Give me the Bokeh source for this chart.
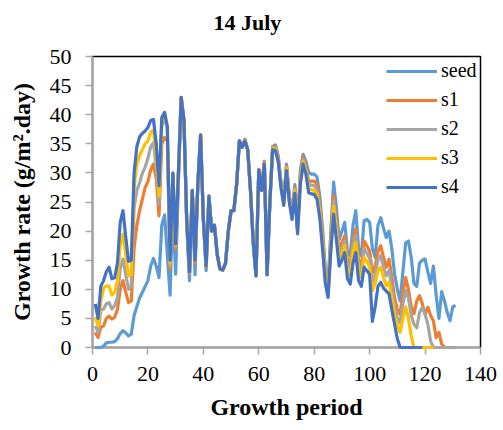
from bokeh.plotting import figure
from bokeh.models import FixedTicker, Range1d, Legend, LegendItem, Label
from bokeh.embed import file_html
from bokeh.resources import INLINE

days = list(range(1, 132))

seed = [0, 0, 0, 0.2, 0.8, 0.9, 0.9, 1.0, 1.5, 2.4,
        2.9, 2.5, 2.0, 2.3, 5.5, 7.0, 8.5, 9.5, 10.5, 11.5,
        14.0, 15.3, 14.0, 12.0, 21.0, 22.8, 16.0, 9.0, 25.0, 12.6,
        28.0, 42.5, 39.0, 21.0, 11.5, 27.0, 12.5, 28.0, 36.5, 22.0,
        13.2, 26.0, 20.0, 21.0, 16.0, 13.5, 13.3, 14.5, 20.0, 23.5,
        23.5, 28.0, 35.5, 34.4, 35.8, 34.0, 27.0, 18.0, 12.3, 30.5,
        27.0, 32.0, 12.5, 25.0, 34.5, 34.8, 33.0, 28.5, 25.4, 31.5,
        26.2, 23.2, 28.0, 21.0, 30.5, 33.2, 32.0, 30.1, 29.8, 29.8,
        29.3, 26.0, 20.5, 13.5, 10.5, 20.0, 28.4, 24.0, 18.5, 20.0,
        21.5, 16.5, 15.8, 21.0, 23.5, 17.0, 15.8, 21.8, 22.0, 21.5,
        17.0, 15.5, 21.0, 22.3, 20.5, 18.9, 20.0, 17.0, 12.6, 10.0,
        8.0, 13.0, 18.0, 18.3, 15.5, 11.0, 10.5, 14.5, 15.0, 15.2,
        13.0, 11.0, 14.0, 9.0, 5.0, 9.6, 8.0, 6.0, 4.6, 7.0, 7.2]

s1 = [2.6, 1.7, 3.5, 3.7, 5.0, 5.4, 4.9, 5.2, 6.5, 10.0,
      11.5, 9.5, 7.7, 8.0, 17.0, 21.0, 23.5, 25.5, 27.5, 28.5,
      30.5, 31.5, 29.0, 22.6, 35.0, 36.1, 35.5, 13.5, 29.5, 17.0,
      29.8, 43.0, 39.0, 21.8, 12.6, 27.0, 14.5, 28.0, 36.6, 22.0,
      13.8, 26.0, 20.0, 21.0, 16.0, 13.5, 13.3, 14.5, 20.0, 23.5,
      23.5, 28.0, 35.5, 34.4, 35.7, 34.0, 27.0, 18.0, 12.3, 30.6,
      27.0, 32.0, 12.5, 25.0, 34.5, 34.5, 32.7, 28.2, 25.0, 31.2,
      25.8, 22.8, 27.5, 20.5, 29.8, 32.8, 31.2, 28.5, 28.6, 28.6,
      28.0, 24.8, 19.5, 12.8, 10.0, 19.2, 26.1, 22.0, 16.8, 18.0,
      19.2, 15.0, 14.5, 18.5, 20.4, 15.0, 14.0, 18.3, 17.5, 16.6,
      12.8, 14.0, 16.5, 17.5, 15.5, 13.8, 15.2, 12.0, 8.6, 6.5,
      5.7, 9.5, 12.0, 10.0, 7.0, 5.8, 8.0, 8.9, 7.5, 5.7,
      6.9, 5.5, 4.6, 1.7, 2.6, 0.6, 0, 0, 0, 0, 0]

s2 = [3.7, 2.6, 6.5, 6.6, 7.5, 7.7, 6.6, 7.2, 8.5, 13.5,
      15.2, 12.5, 10.0, 10.5, 24.0, 27.0, 28.3, 30.0, 31.0, 32.5,
      34.5, 35.2, 31.0, 24.6, 38.0, 39.5, 37.5, 14.0, 29.8, 17.3,
      30.0, 43.0, 39.0, 21.9, 12.8, 27.0, 14.7, 28.0, 36.5, 22.0,
      14.0, 26.0, 20.0, 21.0, 16.0, 13.5, 13.3, 14.5, 20.0, 23.5,
      23.5, 28.0, 35.5, 34.4, 35.6, 34.0, 27.0, 18.0, 12.3, 30.5,
      27.0, 31.8, 12.5, 25.0, 34.3, 34.3, 32.4, 28.0, 24.8, 30.9,
      25.5, 22.5, 27.2, 20.2, 29.3, 32.3, 30.8, 28.0, 27.9, 27.8,
      27.1, 24.0, 18.7, 12.2, 9.5, 18.3, 25.2, 21.0, 15.8, 17.0,
      18.3, 14.0, 13.5, 17.5, 19.3, 14.0, 13.0, 17.0, 16.2, 15.3,
      11.2, 12.5, 15.0, 15.8, 13.8, 12.3, 13.3, 10.0, 7.2, 5.0,
      4.2, 7.5, 9.8, 8.5, 5.5, 4.0, 3.4, 6.0, 6.9, 5.7,
      4.0, 1.1, 0, 0, 0, 0, 0, 0, 0, 0, 0]

s3 = [5.2, 3.7, 8.0, 10.2, 10.6, 10.5, 9.0, 9.5, 11.5, 17.5,
      19.5, 16.0, 12.3, 12.5, 27.5, 31.5, 33.0, 34.0, 35.0, 35.5,
      37.0, 37.3, 33.0, 26.0, 39.0, 40.2, 37.8, 14.5, 29.9, 17.6,
      30.0, 43.0, 39.0, 22.0, 13.0, 27.0, 15.0, 28.0, 36.5, 22.0,
      14.0, 26.0, 20.0, 21.0, 16.0, 13.5, 13.3, 14.5, 20.0, 23.5,
      23.5, 28.0, 35.5, 34.4, 35.6, 34.0, 27.0, 18.0, 12.3, 30.5,
      27.0, 31.6, 12.5, 25.0, 34.2, 34.1, 32.2, 27.8, 24.6, 30.7,
      25.2, 22.2, 26.9, 19.9, 28.8, 31.9, 30.3, 27.3, 27.1, 27.0,
      26.3, 23.2, 17.9, 11.6, 9.0, 17.4, 24.3, 20.0, 15.0, 16.0,
      17.5, 13.0, 12.3, 16.3, 18.0, 13.0, 12.0, 15.5, 14.8, 13.8,
      9.8, 11.0, 13.2, 13.8, 12.0, 10.6, 11.2, 8.5, 5.7, 3.8,
      2.6, 5.0, 7.0, 5.0, 2.0, 0, 0, 0, 0, 0,
      0, 0, 0]

s4 = [7.5, 5.0, 10.5, 11.5, 13.0, 13.8, 11.8, 12.0, 14.5, 21.5,
      23.5, 19.0, 14.8, 15.0, 30.0, 34.5, 36.2, 36.8, 37.2, 37.8,
      39.0, 39.2, 35.0, 27.8, 39.5, 40.4, 38.0, 15.0, 30.0, 17.8,
      30.0, 43.0, 39.0, 22.0, 13.0, 27.0, 15.0, 28.0, 36.5, 22.0,
      14.0, 26.0, 20.0, 21.0, 16.0, 13.5, 13.3, 14.5, 20.0, 23.5,
      23.5, 28.0, 35.5, 34.4, 35.5, 34.0, 27.0, 18.0, 12.3, 30.5,
      27.0, 31.5, 12.5, 25.0, 34.0, 33.8, 32.0, 27.5, 24.4, 30.4,
      25.0, 22.0, 26.5, 19.5, 28.0, 31.5, 29.8, 26.6, 26.4, 26.3,
      25.5, 22.3, 17.0, 11.0, 8.6, 16.6, 22.9, 18.5, 14.0, 15.0,
      16.3, 11.8, 10.9, 14.5, 16.3, 11.5, 10.5, 13.8, 13.2, 12.6,
      4.5, 7.0, 10.5, 11.2, 10.2, 9.7, 9.2, 6.5, 4.0, 1.5,
      0, 0, 0, 0, 0, 0, 0, 0, 0]

series_names = ["seed", "s1", "s2", "s3", "s4"]
series_values = [seed, s1, s2, s3, s4]
series_colors = ["#5B9BD5", "#ED7D31", "#A5A5A5", "#FFC000", "#4472C4"]

x_ticks = [0, 20, 40, 60, 80, 100, 120, 140]
y_ticks = [0, 5, 10, 15, 20, 25, 30, 35, 40, 45, 50]
title_text = "14 July"

FONT = "Liberation Serif"

p = figure(width=503, height=430, output_backend="svg", toolbar_location=None,
           x_range=Range1d(0, 140), y_range=Range1d(0, 50),
           min_border_left=92, min_border_right=23, min_border_top=56, min_border_bottom=83)

p.xgrid.visible = False
p.ygrid.visible = False
p.outline_line_color = "black"
p.outline_line_width = 1.5
p.background_fill_color = "white"
p.border_fill_color = "white"

items = []
for name, vals, col in zip(series_names, series_values, series_colors):
    r = p.line(days[:len(vals)], vals, line_color=col, line_width=3.2,
               line_join="round", level="overlay")
    items.append(LegendItem(label=name, renderers=[r]))

for ax in (p.xaxis[0], p.yaxis[0]):
    ax.axis_line_color = "#A6A6A6"
    ax.axis_line_width = 2
    ax.major_tick_line_color = "#A6A6A6"
    ax.major_tick_line_width = 1.5
    ax.major_tick_out = 7
    ax.major_tick_in = 0
    ax.minor_tick_out = 0
    ax.minor_tick_in = 0
    ax.major_label_text_font = FONT
    ax.major_label_text_font_size = "22px"
    ax.major_label_text_color = "black"
    ax.axis_label_text_font = FONT
    ax.axis_label_text_font_size = "24px"
    ax.axis_label_text_font_style = "bold"
    ax.axis_label_text_color = "black"

p.xaxis[0].ticker = FixedTicker(ticks=x_ticks)
p.yaxis[0].ticker = FixedTicker(ticks=y_ticks)
p.xaxis[0].axis_label = "Growth period"
p.yaxis[0].axis_label = "Growth rate (g/m².day)"
p.xaxis[0].major_label_standoff = 12
p.yaxis[0].major_label_standoff = 14
p.xaxis[0].axis_label_standoff = 10
p.yaxis[0].axis_label_standoff = 12

title = Label(x=121, y=34, x_units="screen", y_units="screen", text=title_text,
              text_font=FONT, text_font_size="22px", text_font_style="bold",
              text_color="black", text_align="left", text_baseline="middle")
p.add_layout(title, "above")

legend = Legend(items=items, location=(289, 144))
legend.label_text_font = FONT
legend.label_text_font_size = "20px"
legend.label_text_color = "black"
legend.glyph_width = 51
legend.glyph_height = 20
legend.label_height = 20
legend.spacing = 6
legend.padding = 5
legend.margin = 0
legend.label_standoff = 4
legend.border_line_alpha = 0
legend.background_fill_alpha = 0
p.add_layout(legend, "center")

open("out.html", "w").write(file_html(p, INLINE))
